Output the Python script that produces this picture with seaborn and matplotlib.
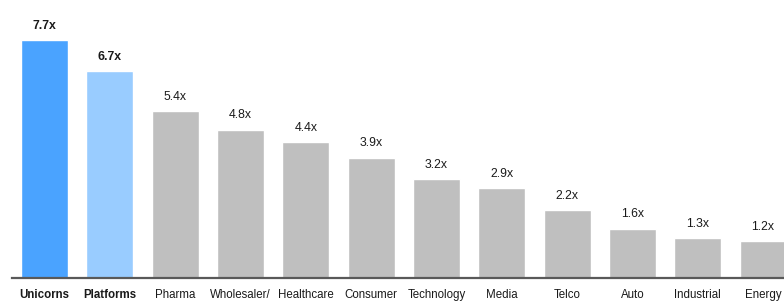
import matplotlib
matplotlib.use("Agg")
import matplotlib.pyplot as plt
import seaborn as sns
import pandas as pd

# data
categories = ['Unicorns', 'Platforms', 'Pharma', 'Wholesaler/', 'Healthcare', 'Consumer',
              'Technology', 'Media', 'Telco', 'Auto', 'Industrial', 'Energy']
multiples = [7.7, 6.7, 5.4, 4.8, 4.4, 3.9, 3.2, 2.9, 2.2, 1.6, 1.3, 1.2]
bar_colors = ['#4AA3FF', '#99CCFF'] + ['#BFBFBF'] * 10
bold_labels = ['Unicorns', 'Platforms']

df = pd.DataFrame({'category': categories, 'multiple': multiples})

sns.set_style('white')
plt.rcParams['font.family'] = ['Liberation Sans', 'DejaVu Sans']

fig = plt.figure(figsize=(7.84, 3.01), dpi=100)
ax = fig.add_axes([12 / 784, 23 / 301, 1 - 12 / 784, 247 / 301])

sns.barplot(data=df, x='category', y='multiple', hue='category',
            palette=bar_colors, legend=False, width=0.72, saturation=1,
            order=categories, hue_order=categories, ax=ax)

ax.set_xlim(-0.5, 11.32)
ax.set_ylim(0, 8)

for i, (cat, val) in enumerate(zip(categories, multiples)):
    ax.annotate(f'{val:.1f}x', (i, val), xytext=(0, 6), textcoords='offset points',
                ha='center', va='bottom', fontsize=8.8, color='#1a1a1a',
                fontweight='bold' if cat in bold_labels else 'normal',
                annotation_clip=False)

ax.set_xlabel('')
ax.set_ylabel('')
ax.set_yticks([])
ax.tick_params(axis='x', length=0, pad=8, labelsize=8.3, labelcolor='#1a1a1a')
for lbl in ax.get_xticklabels():
    if lbl.get_text() in bold_labels:
        lbl.set_fontweight('bold')

for side in ['top', 'right', 'left']:
    ax.spines[side].set_visible(False)
ax.spines['bottom'].set_color('#595959')
ax.spines['bottom'].set_linewidth(1.6)

fig.savefig('out.png', dpi=100)
